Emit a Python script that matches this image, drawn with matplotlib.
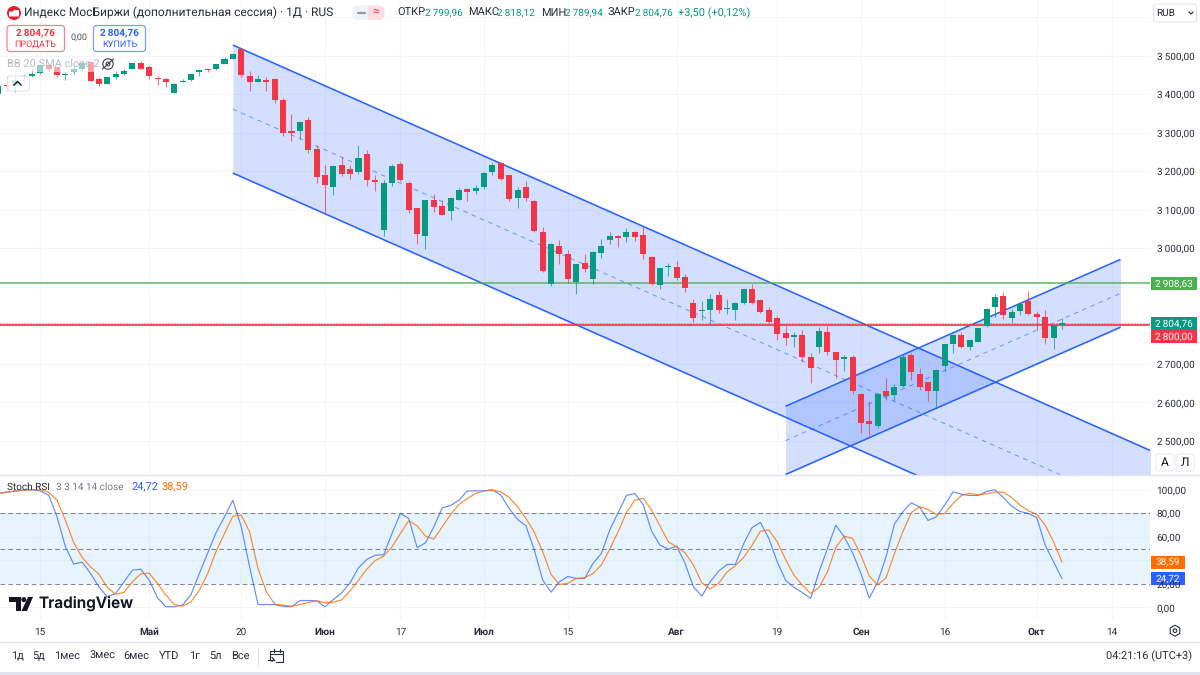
import matplotlib
matplotlib.use("Agg")
import matplotlib.pyplot as plt
from matplotlib.patches import Rectangle, FancyBboxPatch, Circle, Polygon, RegularPolygon

plt.rcParams['font.family'] = ['Roboto', 'DejaVu Sans']
plt.rcParams['text.hinting'] = 'no_hinting'
plt.rcParams['text.hinting_factor'] = 1

# ---------- candles ----------
opens = [3399,3423,3421,3447,3446,3454,3476,3469,3449,3456,3466,3482,3438,3427,3444,3451,3466,3480,3470,3442,
         3440,3404,3432,3436,3458,3465,3464,3479,3492,3516,3447,3432,3436,3438,3384,3305,3305,3332,3258,3191,
         3158,3217,3206,3197,3245,3178,3048,3170,3219,3170,3104,3033,3126,3109,3096,3126,3154,3148,3159,3197,
         3220,3190,3130,3158,3123,3043,2906,3005,2986,2912,2962,2920,2988,3021,3032,3028,3043,3034,2978,2905,
         2951,2951,2926,2858,2837,2840,2878,2842,2839,2858,2893,2865,2839,2820,2780,2770,2774,2717,2745,2783,
         2730,2713,2717,2622,2551,2538,2630,2619,2642,2722,2674,2654,2630,2695,2752,2775,2745,2758,2797,2848,
         2877,2818,2836,2862,2830,2822,2766,2799.96]
highs = [3423,3447,3443,3453,3464,3477,3479,3471,3457,3475,3484,3484,3443,3445,3459,3465,3481,3485,3475,3448,
         3442,3429,3438,3452,3466,3466,3479,3495,3507,3519,3459,3449,3443,3441,3391,3347,3330,3341,3268,3217,
         3216,3237,3215,3268,3255,3191,3178,3218,3223,3175,3105,3126,3140,3126,3132,3156,3157,3165,3197,3221,
         3225,3191,3158,3174,3125,3056,3014,3021,2995,2960,2984,2992,3023,3042,3035,3053,3044,3057,2979,2950,
         2962,2966,2932,2868,2863,2880,2888,2868,2860,2894,2908,2868,2847,2825,2799,2783,2787,2728,2795,2799,
         2731,2724,2724,2624,2603,2624,2663,2647,2722,2729,2689,2654,2687,2752,2778,2783,2765,2794,2845,2880,
         2887,2843,2860,2889,2837,2839,2803,2818.12]
lows = [3397,3410,3406,3432,3445,3453,3460,3443,3436,3452,3460,3434,3421,3426,3438,3449,3466,3464,3439,3423,
        3418,3403,3430,3435,3447,3456,3463,3478,3491,3443,3409,3431,3407,3378,3291,3279,3284,3248,3168,3088,
        3138,3188,3179,3192,3161,3148,3033,3161,3175,3092,3010,2997,3095,3086,3074,3125,3122,3141,3154,3190,
        3177,3123,3104,3123,3043,2939,2901,2958,2911,2880,2938,2908,2974,3010,3003,3016,3019,2971,2904,2894,
        2927,2917,2887,2808,2815,2803,2832,2829,2815,2856,2855,2833,2806,2763,2750,2745,2705,2650,2727,2722,
        2663,2681,2621,2520,2513,2534,2607,2604,2640,2657,2633,2603,2583,2681,2727,2742,2735,2758,2795,2822,
        2817,2806,2826,2827,2789,2751,2739,2789.94]
closes = [3421,3421,3436,3443,3451,3475,3465,3450,3453,3465,3481,3435,3427,3443,3451,3460,3480,3465,3446,3438,
          3430,3427,3434,3451,3463,3462,3478,3492,3505,3449,3432,3438,3432,3384,3300,3299,3328,3254,3185,3164,
          3214,3193,3193,3234,3177,3173,3168,3213,3177,3100,3037,3125,3107,3087,3130,3151,3145,3157,3196,3216,
          3179,3128,3152,3131,3045,2941,3010,2984,2920,2958,2945,2990,3005,3032,3026,3042,3028,2985,2908,2948,
          2954,2922,2896,2818,2839,2869,2839,2844,2858,2893,2859,2835,2808,2777,2768,2776,2718,2689,2785,2732,
          2711,2718,2629,2546,2544,2622,2616,2639,2719,2679,2640,2630,2685,2751,2775,2744,2763,2792,2843,2874,
          2827,2834,2855,2829,2822,2768,2801,2804.76]

# ---------- Stoch RSI ----------
stoch_k = [96.8,97.9,98.8,99.6,100,99,95.4,77,51.5,36.8,38.5,28.9,17.5,9.1,11.9,21.8,31.7,32.5,23.2,8.2,
           0.6,0.6,2,11,28.9,46.4,63.7,77,91.1,68.5,34.5,2.5,2.5,2.5,0.8,0.6,5.9,5.9,5.7,0.6,
           6.8,12.5,20.9,33.7,40.8,44.4,44.7,62.8,79.8,75.6,50.9,54.9,68.5,84.6,86.6,91.1,99,99,99,100,
           95.4,84,74.7,69.3,48.7,23.2,13,21.8,26.3,24.6,24.6,37.4,45.8,65.7,80.4,95.1,96.8,87.4,64.8,52.9,
           49.5,52.1,37.4,17.5,9.6,21.8,30.8,36.5,36.5,54.3,67.9,72.2,58.6,38.8,23.2,17,12.7,7.6,30.3,50.1,
           69.9,60,46.4,28.9,7.9,21.8,43,70.8,81.2,88.9,85.5,73.9,77,86.9,98.2,96.2,95.1,95.1,98.5,100,
           93.4,86,81.5,79.8,76.4,52.9,38.8,24.72]
stoch_d = [96.8,97.9,99,99.6,100,100,97.9,91.1,74.1,54.9,42.5,34.5,28.3,17,11.3,12.7,21.8,28.6,29.1,20.4,
           10.5,2.5,1.1,4.8,14.7,28.9,47.8,62.8,77.5,78.4,64.2,33.1,13.3,2.8,2,1.1,2.5,4.2,5.7,4,
           4.5,6.5,14.2,23.2,32.5,39.9,43.6,51.5,62.8,73.6,69.3,60.6,58,68.5,79,87.4,92.5,96.8,99,99.6,
           98.2,93.4,85.5,75.6,63.7,47.3,28,19.5,20.4,24.6,25.2,28.9,35.9,49.5,64.2,80.7,91.1,92.8,82.6,69.3,
           55.8,51.5,46.4,35.9,20.9,15.8,20.4,30,35.4,42.5,52.9,64.8,65.9,55.8,40.8,27.5,19,11.9,17,30.3,
           50.9,60.6,58.6,44.4,26.6,19.2,25.2,45.8,64.2,80.4,85.5,83.2,79.2,79.8,88.3,95.1,96.8,95.9,96.5,97.9,
           97.9,93.4,86.9,82.1,79,69.9,55.8,38.59]

# ---------- channels: (bar, price) anchors ----------
ch1_bars = [28, 138]
ch1_top = [3527, 2471]
ch1_mid = [3361, 2305]
ch1_bot = [3195, 2139]
ch2_bars = [94, 134]
ch2_top = [2590, 2971]
ch2_mid = [2501, 2883]
ch2_bot = [2413, 2795]

level_green = 2908.63
level_red = 2800.00
last_price = 2804.76

price_grid = [3600,3500,3400,3300,3200,3100,3000,2900,2800,2700,2600,2500]
price_labels = ['', '3\u2009500,00','3\u2009400,00','3\u2009300,00','3\u2009200,00','3\u2009100,00','3\u2009000,00',
                '', '', '2\u2009700,00','2\u2009600,00','2\u2009500,00']
stoch_grid = [100,80,60,40,0]
stoch_labels = ['100,00','80,00','60,00','','0,00']
time_ticks = [5,18,29,39,48,58,68,81,93,103,113,124,133]
time_labels = ['15','Май','20','Июн','17','Июл','15','Авг','19','Сен','16','Окт','14']
month_labels = {'Май','Июн','Июл','Авг','Сен','Окт'}
range_labels = ['1д','5д','1мес','3мес','6мес','YTD','1г','5л','Все']
range_x = [17,39,67,102,136,169,194,215,240]

# ---------- style ----------
RED = '#f23645'; GREEN = '#089981'; BLUE = '#2962ff'; ORANGE = '#ff6d00'
GRID = '#f5f6fa'; TXT = '#131722'; BORDER = '#e0e3eb'
TICK = 7.0

W, H = 1200, 675
fig = plt.figure(figsize=(12, 6.75), dpi=100, facecolor='white')
def axrect(x0, y0, x1, y1):
    return [x0/W, 1-y1/H, (x1-x0)/W, (y1-y0)/H]

xl = (0.19, 137.52)
ax = fig.add_axes(axrect(0, 0, 1150, 474.5))
ax2 = fig.add_axes(axrect(0, 475, 1150, 619))
for a in (ax, ax2):
    a.set_xlim(*xl)
    for s in a.spines.values():
        s.set_visible(False)
    a.set_axisbelow(True)
    a.grid(True, color=GRID, lw=0.8)
    a.set_xticks(time_ticks)
    a.yaxis.tick_right()
    a.tick_params(axis='both', length=0, labelsize=TICK, labelcolor='#2a2e39', pad=4.8)

ax.set_ylim(2413, 3644)
ax.set_yticks(price_grid, price_labels)
ax.tick_params(axis='x', labelbottom=False)

# channels
ax.fill_between(ch1_bars, ch1_bot, ch1_top, color=BLUE, alpha=0.2, lw=0, zorder=1)
ax.fill_between(ch2_bars, ch2_bot, ch2_top, color=BLUE, alpha=0.2, lw=0, zorder=1)
for bars, ys in ((ch1_bars, ch1_top), (ch1_bars, ch1_bot), (ch2_bars, ch2_top), (ch2_bars, ch2_bot)):
    ax.plot(bars, ys, color=BLUE, lw=1.15, zorder=2, solid_capstyle='butt')
for bars, ys in ((ch1_bars, ch1_mid), (ch2_bars, ch2_mid)):
    ax.plot(bars, ys, color=BLUE, lw=0.72, alpha=0.6, ls=(0, (4.5, 4.5)), zorder=2)

# levels
ax.axhline(level_green, color='#4caf50', lw=1.1, zorder=2.5, alpha=0.9)
ax.axhline(last_price, color=GREEN, lw=0.72, ls=(0, (1, 2)), zorder=2.5, alpha=0.7)
ax.axhline(level_red, color=RED, lw=1.5, zorder=2.5, alpha=0.85)

# candles
idx = list(range(len(closes)))
cols = [GREEN if c >= o else RED for o, c in zip(opens, closes)]
ax.vlines(idx, lows, highs, colors=cols, lw=0.8, alpha=0.7, zorder=3)
ax.bar(idx, [abs(c-o) for o, c in zip(opens, closes)], bottom=[min(o, c) for o, c in zip(opens, closes)],
       width=0.72, color=cols, lw=0, zorder=4)

# Stoch pane
ax2.set_ylim(-9.8, 112.5)
ax2.set_yticks(stoch_grid, stoch_labels)
ax2.axhspan(20, 80, color='#2196f3', alpha=0.1, lw=0, zorder=2)
for lv in (80, 50, 20):
    ax2.axhline(lv, color='#787b86', lw=0.75, ls=(0, (4.5, 3)), zorder=2.5, alpha=0.9)
ax2.plot(idx, stoch_k, color=BLUE, lw=0.85, alpha=0.72, zorder=3, solid_joinstyle='miter')
ax2.plot(idx, stoch_d, color=ORANGE, lw=0.85, alpha=0.8, zorder=3, solid_joinstyle='miter')
ax2.set_xticks(time_ticks, time_labels)
ax2.tick_params(axis='x', pad=6.4, labelsize=7.0)
for lab in ax2.get_xticklabels():
    if lab.get_text() in month_labels:
        lab.set_fontweight('bold')

# ---------- pixel-space chrome ----------
ui = fig.add_axes([0, 0, 1, 1], zorder=10)
ui.set_xlim(0, W); ui.set_ylim(H, 0); ui.axis('off'); ui.patch.set_alpha(0)

def box(x0, y0, x1, y1, fc, **kw):
    ui.add_patch(Rectangle((x0, y0), x1-x0, y1-y0, fc=fc, lw=0, **kw))
def rbox(x0, y0, x1, y1, ec, fc='white', r=3, lw=0.8, **kw):
    ui.add_patch(FancyBboxPatch((x0+r, y0+r), x1-x0-2*r, y1-y0-2*r, boxstyle=f'round,pad={r},rounding_size={r}',
                                ec=ec, fc=fc, lw=lw, mutation_aspect=1, **kw))
def t(x, y, s, size=8, color=TXT, ha='left', va='center', **kw):
    ui.text(x, y, s, fontsize=size, color=color, ha=ha, va=va, **kw)

# separators
ui.plot([0, W], [474.5, 474.5], color=BORDER, lw=1)
ui.plot([0, W], [641.5, 641.5], color=BORDER, lw=1)
box(0, 672, W, 675, BORDER)
ui.plot([258, 258], [648, 666], color=BORDER, lw=0.8)

# header
ui.add_patch(Circle((14, 13), 7, fc='#e5202e', lw=0))
ui.add_patch(Polygon([(9, 16.5), (9, 11.5), (13, 11.5), (14, 10), (19, 10), (19, 16.5)], fc='white', lw=0))
t(24, 12.7, 'Индекс МосБиржи (дополнительная сессия) · 1Д · RUS', size=8.95, color='#2a2e39')
rbox(353, 6, 384, 19.5, '#f0f3fa', fc='#f0f3fa', r=6)
rbox(368, 6, 384, 19.5, '#fbdfe5', fc='#fbdfe5', r=6)
box(368, 5.7, 374, 19.8, '#fbdfe5')
ui.plot([358, 365], [12.7, 12.7], color='#9598a1', lw=1.6, solid_capstyle='round')
t(375.5, 12.4, '≈', size=8.5, color='#f23645', ha='center')

hy = 13
OHL = 7.9; OHV = 7.2
t(397, hy, 'ОТКР', size=OHL, color='#2a2e39'); t(425, hy, '2\u2009799,96', size=OHV, color=GREEN)
t(468, hy, 'МАКС', size=OHL, color='#2a2e39'); t(497, hy, '2\u2009818,12', size=OHV, color=GREEN)
t(541, hy, 'МИН', size=OHL, color='#2a2e39'); t(565, hy, '2\u2009789,94', size=OHV, color=GREEN)
t(608, hy, 'ЗАКР', size=OHL, color='#2a2e39'); t(635, hy, '2\u2009804,76', size=OHV, color=GREEN)
t(678, hy, '+3,50 (+0,12%)', size=7.8, color=GREEN)

# buy/sell
rbox(7, 25.5, 64.5, 51.5, '#f7838c', lw=0.9)
rbox(93.5, 25.5, 145.5, 51.5, '#7c9bff', lw=0.9)
t(35.5, 33.8, '2\u2009804,76', size=6.9, color=RED, ha='center', fontweight='bold')
t(35.5, 44.5, 'ПРОДАТЬ', size=6.6, color=RED, ha='center')
t(119.5, 33.8, '2\u2009804,76', size=6.9, color=BLUE, ha='center', fontweight='bold')
t(119.5, 44.5, 'КУПИТЬ', size=6.6, color=BLUE, ha='center')
t(79, 37.2, '0,00', size=6.4, color='#50535e', ha='center')

# faded indicator legend
box(5, 57, 96, 72, 'white', alpha=0.55)
t(7, 64, 'BB 20 SMA close 2', size=7.7, color='#b8bbc4')
ui.add_patch(Circle((108, 64), 5.2, fc='none', ec='#3a3e48', lw=0.8))
ui.add_patch(Circle((108, 64), 1.9, fc='none', ec='#3a3e48', lw=0.8))
ui.plot([102.5, 113.5], [69, 59], color='#3a3e48', lw=0.8)
rbox(7.5, 76, 29.5, 91, '#e0e3eb', fc='#ffffffcc', r=2.5, lw=0.8)
ui.plot([14, 17.5, 21], [85, 81.5, 85], color='#131722', lw=1)

# RUB selector
rbox(1153.5, 4, 1196.5, 22, '#e0e3eb', r=2.5, lw=0.7)
t(1156.5, 13.3, 'RUB', size=7, color='#2a2e39')
ui.plot([1189, 1191, 1193], [12, 14, 12], color='#2a2e39', lw=0.8)

# price labels
box(1150.7, 276.7, 1196.7, 290, '#4caf50')
t(1174, 283.4, '2\u2009908,63', size=TICK, color='white', ha='center')
box(1150.7, 316.7, 1196.7, 330, GREEN)
t(1174, 323.4, '2\u2009804,76', size=TICK, color='white', ha='center')
box(1150.7, 330, 1196.7, 343, RED)
t(1174, 336.5, '2\u2009800,00', size=TICK, color='white', ha='center')

# A / Л buttons
rbox(1156, 454, 1174, 471, '#e8eaf0', r=2.5, lw=0.7)
rbox(1176, 454, 1194, 471, '#e8eaf0', r=2.5, lw=0.7)
t(1165, 462.5, 'А', size=8.8, ha='center')
t(1185, 462.5, 'Л', size=8.8, ha='center')

# stoch legend and labels
t(7, 487.5, 'Stoch RSI', size=7.4, color='#2a2e39')
t(56, 487.5, '3 3 14 14 close', size=7.1, color='#787b86')
t(131, 487.5, '24,72', size=7.7, color=BLUE)
t(161, 487.5, '38,59', size=7.7, color=ORANGE)
box(1151, 555.7, 1185, 568.7, ORANGE)
t(1168, 562.2, '38,59', size=TICK, color='white', ha='center')
t(1157, 585, '20,00', size=TICK, color='#2a2e39')
box(1151, 572, 1185, 585, BLUE)
t(1168, 578.5, '24,72', size=TICK, color='white', ha='center')

# TradingView logo
ui.add_patch(Polygon([(9, 597), (21, 597), (21, 611), (15.5, 611), (15.5, 602), (9, 602)], fc=TXT, lw=0))
ui.add_patch(Circle((23.8, 599.6), 2.5, fc=TXT, lw=0))
ui.add_patch(Polygon([(28, 597), (33, 597), (27, 611), (21.5, 611)], fc=TXT, lw=0))
ui.text(38, 603.5, 'TradingView', fontsize=11.1, color=TXT, ha='left', va='center', fontweight='semibold',
        family=['Inter', 'DejaVu Sans'])

# gear
ui.add_patch(RegularPolygon((1175, 630.7), 6, radius=5.5, fc='none', ec='#2a2e39', lw=0.8))
ui.add_patch(Circle((1175, 630.7), 1.8, fc='none', ec='#2a2e39', lw=0.8))

# bottom bar
for x, s in zip(range_x, range_labels):
    t(x, 656, s, size=8.2, color='#2a2e39', ha='center')
t(1192, 656, '04:21:16 (UTC+3)', size=7.8, color='#2a2e39', ha='right')
ui.plot([270, 270, 283, 283, 276], [660, 650.5, 650.5, 662, 662], color='#2a2e39', lw=0.8)
ui.plot([270, 283], [654, 654], color='#2a2e39', lw=0.8)
ui.plot([273.5, 273.5], [649, 652], color='#2a2e39', lw=0.8)
ui.plot([279.5, 279.5], [649, 652], color='#2a2e39', lw=0.8)
ui.plot([268, 274], [659.5, 659.5], color='#2a2e39', lw=0.8)
ui.plot([272, 274, 272], [657.5, 659.5, 661.5], color='#2a2e39', lw=0.8)

fig.savefig('out.png', dpi=100)
